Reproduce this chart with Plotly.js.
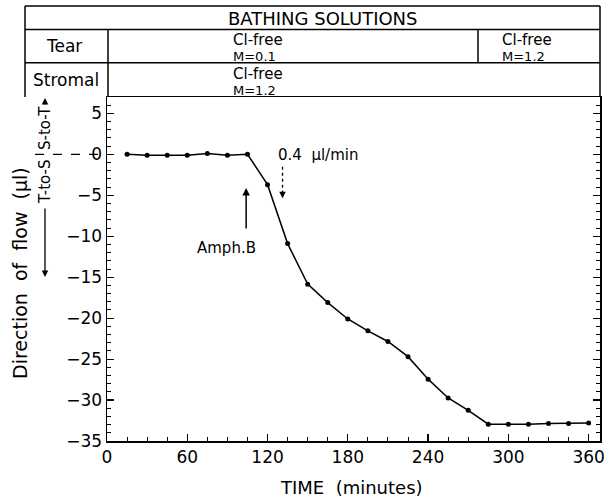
<!DOCTYPE html>
<html><head><meta charset="utf-8">
<script src="https://cdn.plot.ly/plotly-3.0.1.min.js"></script>
<style>html,body{margin:0;padding:0;background:#fff}</style>
</head><body><div id="chart" style="width:604px;height:500px"></div>
<script>
// Data
const timeMin = [15,30,45,60,75,90,105,120,135,150,165,180,195,210,225,240,255,270,285,300,315,330,345,360];
const flowUl  = [0,-0.1,-0.1,-0.1,0.1,-0.1,0,-3.7,-10.9,-15.85,-18.1,-20.1,-21.55,-22.85,-24.7,-27.45,-29.75,-31.25,-32.95,-32.95,-32.95,-32.85,-32.85,-32.8];
const xTicks = [0,60,120,180,240,300,360];
const yTicks = [5,0,-5,-10,-15,-20,-25,-30,-35];
const headerTitle = "BATHING SOLUTIONS";
const rowLabels = ["Tear","Stromal"];
const tearCells = [["Cl-free","M=0.1"],["Cl-free","M=1.2"]];
const stromalCells = [["Cl-free","M=1.2"]];
const amphTime = 104, amphTip = -4.1, amphLabel = "Amph.B";
const rateTime = 131.2, rateLabel = "0.4\u00a0\u00a0µl/min";

const W=604,H=500,L=107,R=4,T=97,B=59;
const pw=W-L-R, ph=H-T-B;
const px=x=>(x-L)/pw, py=y=>(H-B-y)/ph;
const FONT="DejaVu Sans";
const blk="#000";

function line(x0,y0,x1,y1,w,dash){return {type:'line',xref:'paper',yref:'paper',x0:px(x0),y0:py(y0),x1:px(x1),y1:py(y1),line:{color:blk,width:w||1.5,dash:dash||'solid'}};}
const shapes=[
  line(25,6,600,6), line(25,6,25,97), line(600,6,600,97),
  line(25,29.5,600,29.5), line(25,62.7,600,62.7),
  line(108,29.5,108,97), line(478,29.5,478,62.7),
  {type:'line',xref:'paper',yref:'y',x0:px(35),x1:px(107),y0:0,y1:0,line:{color:blk,width:1.2,dash:'dash'}},
  {type:'line',xref:'x',yref:'paper',x0:rateTime,x1:rateTime,y0:py(166.7),y1:py(191),line:{color:blk,width:1.3,dash:'3px,3px'}}
];
function txt(t,x,y,size,opts){return Object.assign({text:t,xref:'paper',yref:'paper',x:px(x),y:py(y),showarrow:false,borderpad:0,font:{family:FONT,size:size,color:blk},xanchor:'center',yanchor:'middle'},opts||{});}
const ann=[
  txt(headerTitle,323,18,18),
  txt(rowLabels[0],64,46,17),
  txt(rowLabels[1],66,80,17),
  txt(tearCells[0][0],232,39.5,15,{xanchor:'left'}),
  txt(tearCells[0][1],232,56,13,{xanchor:'left'}),
  txt(tearCells[1][0],501,39.5,15,{xanchor:'left'}),
  txt(tearCells[1][1],501,56,13,{xanchor:'left'}),
  txt(stromalCells[0][0],232,73.5,15,{xanchor:'left'}),
  txt(stromalCells[0][1],232,91,13,{xanchor:'left'}),
  txt("Direction  of  flow  (µl)",20,273,19,{textangle:-90}),
  txt("TIME  (minutes)",351,487,18),
  txt("S-to-T",45,128,15,{textangle:-90}),
  txt("T-to-S",45,182,15,{textangle:-90}),
  {text:'',xref:'paper',yref:'paper',x:px(45),y:py(98),ax:0,ay:8,showarrow:true,arrowhead:2,arrowsize:1,arrowwidth:1.3,arrowcolor:blk},
  {text:'',xref:'paper',yref:'paper',x:px(45),y:py(277),ax:0,ay:-70,showarrow:true,arrowhead:2,arrowsize:1,arrowwidth:1.3,arrowcolor:blk},
  {text:'',xref:'x',yref:'y',x:amphTime,y:amphTip,ax:0,ay:42,showarrow:true,arrowhead:2,arrowsize:1,arrowwidth:1.5,arrowcolor:blk},
  txt(amphLabel,226,248,15),
  {text:'',xref:'x',yref:'paper',x:rateTime,y:py(198.3),ax:0,ay:-9,showarrow:true,arrowhead:2,arrowsize:1,arrowwidth:1.3,arrowcolor:blk},
  txt(rateLabel,277,155,15,{xanchor:'left'})
];

const trace={x:timeMin,y:flowUl,type:'scatter',mode:'lines+markers',line:{color:blk,width:1.5},marker:{color:blk,size:5},cliponaxis:false,showlegend:false};
const layout={
  width:W,height:H,margin:{l:L,r:R,t:T,b:B,pad:0},
  paper_bgcolor:'#fff',plot_bgcolor:'#fff',
  font:{family:FONT,color:blk},
  xaxis:{range:[0,368.5],tickvals:xTicks,ticks:'inside',ticklen:7,tickwidth:1.2,tickcolor:blk,ticklabeloverflow:'allow',
    minor:{dtick:15,tick0:0,ticks:'inside',ticklen:4,tickwidth:1,tickcolor:blk},
    showline:true,linewidth:1.5,linecolor:blk,mirror:true,showgrid:false,zeroline:false,
    tickfont:{family:FONT,size:17,color:blk}},
  yaxis:{range:[-35,7],tickvals:yTicks,ticks:'inside',ticklen:7,tickwidth:1.2,tickcolor:blk,
    minor:{dtick:1,tick0:0,ticks:'inside',ticklen:4,tickwidth:1,tickcolor:blk},
    showline:true,linewidth:1.5,linecolor:blk,mirror:'ticks',showgrid:false,zeroline:false,
    tickfont:{family:FONT,size:17,color:blk}},
  shapes:shapes,annotations:ann
};
Plotly.newPlot('chart',[trace],layout,{displayModeBar:false,staticPlot:true});
</script></body></html>
